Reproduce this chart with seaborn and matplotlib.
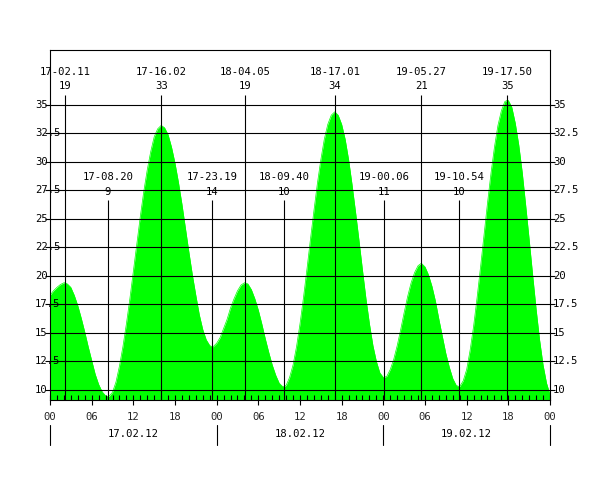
import numpy as np
import pandas as pd
import matplotlib
matplotlib.use("Agg")
import matplotlib.pyplot as plt
import matplotlib.transforms as mtransforms
from matplotlib.ticker import MultipleLocator, FixedLocator
import seaborn as sns

# ---------------- data ----------------
# water level at every full hour (0..72)
hours = list(range(0, 73))
level = [18.3, 19.0, 19.4, 19.0, 17.4, 15.1, 12.6, 10.5, 9.5, 9.8,
         12.1, 15.8, 20.4, 25.2, 29.3, 32.2, 33.2, 32.4, 29.9, 26.3,
         22.1, 18.3, 15.3, 13.9, 14.1, 15.4, 17.2, 18.7, 19.4, 18.8,
         17.0, 14.5, 12.2, 10.6, 10.4, 12.2, 15.8, 20.6, 25.7, 30.2,
         33.3, 34.4, 33.3, 30.2, 25.6, 20.5, 15.8, 12.5, 11.1, 11.8,
         13.9, 16.8, 19.4, 20.9, 20.8, 19.1, 16.2, 13.2, 11.0, 10.3,
         11.8, 15.6, 20.8, 26.4, 31.3, 34.5, 35.4, 33.4, 29.1, 23.2,
         17.1, 12.2, 9.6]

# water level at every half hour (0.5..71.5)
half_hours = [h + 0.5 for h in range(0, 72)]
level_half = [18.7, 19.25, 19.3, 18.3, 16.3, 13.8, 11.4, 9.85, 9.45, 10.7,
              13.8, 18.0, 22.8, 27.4, 30.9, 32.9, 33.0, 31.3, 28.2, 24.2,
              20.1, 16.6, 14.4, 13.8, 14.6, 16.2, 18.0, 19.2, 19.3, 18.0,
              15.8, 13.3, 11.3, 10.3, 11.1, 13.8, 18.1, 23.2, 28.1, 32.0,
              34.1, 34.1, 32.0, 28.0, 23.1, 18.0, 13.9, 11.5, 11.2, 12.7,
              15.3, 18.2, 20.3, 21.1, 20.1, 17.8, 14.7, 12.0, 10.4, 10.8,
              13.5, 18.1, 23.6, 29.0, 33.2, 35.3, 34.8, 31.5, 26.2, 20.1,
              14.4, 10.6]

# high / low water extremes
ext_time = [2.183, 8.333, 16.033, 23.317, 28.083, 33.667,
            41.017, 48.1, 53.45, 58.9, 65.833]
ext_level = [19.4, 9.4, 33.2, 13.8, 19.4, 10.3, 34.4, 11.1, 21.1, 10.3, 35.4]
ext_stamp = ["17-02.11", "17-08.20", "17-16.02", "17-23.19", "18-04.05",
             "18-09.40", "18-17.01", "19-00.06", "19-05.27", "19-10.54",
             "19-17.50"]
ext_value = ["19", "9", "33", "14", "19", "10", "34", "11", "21", "10", "35"]
ext_high = [True, False, True, False, True, False, True, False, True, False, True]

y_ticks = [10, 12.5, 15, 17.5, 20, 22.5, 25, 27.5, 30, 32.5, 35]
y_tick_labels = ["10", "12.5", "15", "17.5", "20", "22.5", "25", "27.5",
                 "30", "32.5", "35"]
x_major = [0, 6, 12, 18, 24, 30, 36, 42, 48, 54, 60, 66, 72]
x_major_labels = ["00", "06", "12", "18", "00", "06", "12", "18",
                  "00", "06", "12", "18", "00"]
day_mid = [12, 36, 60]
day_labels = ["17.02.12", "18.02.12", "19.02.12"]
day_bounds = [0, 24, 48, 72]

# ---------------- style ----------------
sns.set_theme(style="white")
plt.rcParams["font.family"] = ["DejaVu Sans Mono", "DejaVu Sans"]
FS = 7.6
LW = 0.8

df = pd.DataFrame({"t": hours + half_hours + ext_time,
                   "v": level + level_half + ext_level})
df = df.sort_values("t").reset_index(drop=True)

fig = plt.figure(figsize=(6, 5), dpi=100)
fig.patch.set_facecolor("white")
ax = fig.add_axes([50 / 600, 100 / 500, 500 / 600, 350 / 500])
ax.set_facecolor("white")
ax.set_axisbelow(False)

Y0, Y1 = 9.12, 39.82
ax.set_xlim(0, 72)
ax.set_ylim(Y0, Y1)

ax.fill_between(df["t"], Y0 - 1, df["v"], color="#00ff00", lw=0, zorder=1)
sns.lineplot(data=df, x="t", y="v", ax=ax, color="#00ff00", lw=0.5,
             zorder=1.5, legend=False)
ax.set_xlabel("")
ax.set_ylabel("")

# horizontal grid lines
ax.hlines(y_ticks, 0, 72, color="black", lw=LW, zorder=3)

# extreme lines and labels
for t, s, v, hi in zip(ext_time, ext_stamp, ext_value, ext_high):
    top = 35.88 if hi else 26.67
    ax.vlines(t, Y0, top, color="black", lw=LW, zorder=3)
    y_s = 37.93 if hi else 28.68
    y_v = 36.62 if hi else 27.35
    ax.text(t, y_s, s, ha="center", va="center", fontsize=FS, color="black")
    ax.text(t, y_v, v, ha="center", va="center", fontsize=FS, color="black")

# y labels (left, right)
ax.set_yticks(y_ticks)
ax.set_yticklabels([])
ax.tick_params(axis="y", left=True, right=True, length=3.5, width=LW,
               direction="out", color="black")
tl = mtransforms.blended_transform_factory(ax.transAxes, ax.transData)
for yv, lab in zip(y_ticks, y_tick_labels):
    ax.text(-0.03, yv, lab, transform=tl, ha="left", va="center",
            fontsize=FS, color="black", zorder=4)
    ax.text(1.006, yv, lab, transform=tl, ha="left", va="center",
            fontsize=FS, color="black")

# x axis ticks
ax.xaxis.set_major_locator(FixedLocator(x_major))
ax.xaxis.set_minor_locator(MultipleLocator(1))
ax.xaxis.remove_overlapping_locs = False
ax.set_xticklabels(x_major_labels, fontsize=FS)
ax.tick_params(axis="x", which="major", bottom=True, direction="out",
               length=3.5, width=LW, pad=5, color="black")
ax.tick_params(axis="x", which="minor", bottom=True, direction="in",
               length=3.5, width=LW, color="black")

# day labels and separators
tx = mtransforms.blended_transform_factory(ax.transData, ax.transAxes)
for m, lab in zip(day_mid, day_labels):
    ax.text(m, -0.097, lab, transform=tx, ha="center", va="center",
            fontsize=FS, color="black")
for b in day_bounds:
    ax.plot([b, b], [-0.0714, -0.1286], transform=tx, color="black",
            lw=LW, clip_on=False)

for sp in ax.spines.values():
    sp.set_visible(True)
    sp.set_color("black")
    sp.set_linewidth(LW)
    sp.set_zorder(5)

fig.savefig("out.png", dpi=100, facecolor="white")
